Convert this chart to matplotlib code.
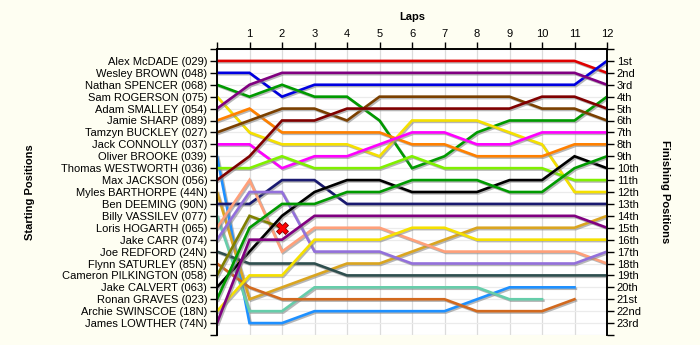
import matplotlib
matplotlib.use("Agg")
import matplotlib.pyplot as plt
import matplotlib.patheffects as pe

plt.rcParams['font.family'] = ['Liberation Sans', 'DejaVu Sans']

# Starting grid (top to bottom)
drivers = ['Alex McDADE (029)', 'Wesley BROWN (048)', 'Nathan SPENCER (068)', 'Sam ROGERSON (075)',
           'Adam SMALLEY (054)', 'Jamie SHARP (089)', 'Tamzyn BUCKLEY (027)', 'Jack CONNOLLY (037)',
           'Oliver BROOKE (039)', 'Thomas WESTWORTH (036)', 'Max JACKSON (056)', 'Myles BARTHORPE (44N)',
           'Ben DEEMING (90N)', 'Billy VASSILEV (077)', 'Loris HOGARTH (065)', 'Jake CARR (074)',
           'Joe REDFORD (24N)', 'Flynn SATURLEY (85N)', 'Cameron PILKINGTON (058)', 'Jake CALVERT (063)',
           'Ronan GRAVES (023)', 'Archie SWINSCOE (18N)', 'James LOWTHER (74N)']

colors = ['#e00000', '#0000e0', '#009a00', '#f5e000', '#800080', '#ff8000', '#7b4000', '#ff00ff',
          '#1e90ff', '#80f000', '#800000', '#daa520', '#1a1a70', '#66cdaa', '#ffa07a', '#9370db',
          '#2f4f4f', '#d2691e', '#808000', '#000000', '#009a00', '#f5e000', '#800080']

# position at each lap (lap 0 = grid)
mcdade    = [1, 1, 1, 1, 1, 1, 1, 1, 1, 1, 1, 1, 2]
wbrown    = [2, 2, 4, 3, 3, 3, 3, 3, 3, 3, 3, 3, 1]
spencer   = [3, 4, 3, 4, 4, 6, 10, 9, 7, 6, 6, 6, 4]
rogerson  = [4, 7, 8, 8, 8, 9, 6, 6, 6, 7, 8, 12, 12]
smalley   = [5, 3, 2, 2, 2, 2, 2, 2, 2, 2, 2, 2, 3]
sharp     = [6, 5, 7, 7, 7, 7, 8, 8, 9, 9, 9, 8, 8]
buckley   = [7, 6, 5, 5, 6, 4, 4, 4, 4, 4, 5, 5, 6]
connolly  = [8, 8, 10, 9, 9, 8, 7, 7, 8, 8, 7, 7, 7]
brooke    = [9, 23, 23, 22, 22, 22, 22, 22, 21, 20, 20, 20]
westworth = [10, 10, 9, 10, 10, 10, 9, 10, 10, 10, 10, 11, 11]
jackson   = [11, 9, 6, 6, 5, 5, 5, 5, 5, 5, 4, 4, 5]
barthorpe = [12, 21, 20, 19, 18, 18, 17, 16, 15, 15, 15, 15, 14]
deeming   = [13, 13, 11, 11, 13, 13, 13, 13, 13, 13, 13, 13, 13]
vassilev  = [14, 22, 22, 20, 20, 20, 20, 20, 20, 21, 21]
hogarth   = [15, 11, 17, 15, 15, 15, 16, 17, 17, 17, 17, 17, 18]
carr      = [16, 12, 12, 17, 17, 17, 18, 18, 18, 18, 18, 18, 17]
redford   = [17, 18, 18, 18, 19, 19, 19, 19, 19, 19, 19, 19, 19]
saturley  = [18, 20, 21, 21, 21, 21, 21, 21, 22, 22, 22, 21]
pilkington = [19, 14, 15]
calvert   = [20, 17, 14, 12, 11, 11, 12, 12, 12, 11, 11, 9, 10]
graves    = [21, 15, 13, 13, 12, 12, 11, 11, 11, 12, 12, 10, 9]
swinscoe  = [22, 19, 19, 16, 16, 16, 15, 15, 16, 16, 16, 16, 16]
lowther   = [23, 16, 16, 14, 14, 14, 14, 14, 14, 14, 14, 14, 15]

positions = [mcdade, wbrown, spencer, rogerson, smalley, sharp, buckley, connolly, brooke,
             westworth, jackson, barthorpe, deeming, vassilev, hogarth, carr, redford, saturley,
             pilkington, calvert, graves, swinscoe, lowther]
crashed = ['Cameron PILKINGTON (058)']

finish_labels = ['1st', '2nd', '3rd'] + [f'{i}th' for i in range(4, 21)] + ['21st', '22nd', '23rd']
n_laps = 12

bg = '#fefef2'
fig = plt.figure(figsize=(7, 3.45), dpi=100, facecolor=bg)
ax = fig.add_axes([217 / 700, 1 - 335 / 345, 390 / 700, 286 / 345])
ax.set_facecolor('white')

shadow = [pe.SimpleLineShadow(offset=(1, -1), shadow_color='#888888', alpha=0.6), pe.Normal()]
for name, col, pos in zip(drivers, colors, positions):
    laps = list(range(len(pos)))
    ax.plot(laps, pos, color=col, lw=1.9, solid_joinstyle='miter', path_effects=shadow, zorder=3)
    if name in crashed:
        ax.plot(laps[-1], pos[-1], marker='X', ms=8, color='#ff0000', mec='#800000', mew=0.6, zorder=5)

ax.set_xlim(0, n_laps)
ax.set_ylim(24, 0)

ax.xaxis.tick_top()
ax.set_xticks(range(n_laps + 1))
ax.set_xticklabels([''] + [str(i) for i in range(1, n_laps + 1)])
ax.set_yticks(range(25))
ax.set_yticklabels([''] + drivers + [''])
ax.tick_params(axis='both', length=5, width=1, labelsize=8, colors='black', pad=2)

ax2 = ax.twinx()
ax2.set_ylim(24, 0)
ax2.set_yticks(range(25))
ax2.set_yticklabels([''] + finish_labels + [''])
ax2.tick_params(axis='y', length=5, width=1, labelsize=8, pad=2)

for a in (ax, ax2):
    a.spines['bottom'].set_visible(False)
    for s in ('top', 'left', 'right'):
        a.spines[s].set_linewidth(1.2)

ax.grid(True, axis='x', color='#dcdcdc', lw=0.9, zorder=0)
ax.grid(True, axis='y', color='#ebebeb', lw=0.9, zorder=0)
ax.set_axisbelow(True)

fig.text(412 / 700, 1 - 17 / 345, 'Laps', ha='center', va='center', fontsize=8, fontweight='bold')
fig.text(30 / 700, 1 - 192 / 345, 'Starting Positions', ha='center', va='center', rotation=90,
         fontsize=8, fontweight='bold')
fig.text(665 / 700, 1 - 192 / 345, 'Finishing Positions', ha='center', va='center', rotation=270,
         fontsize=8, fontweight='bold')

fig.savefig('out.png', dpi=100, facecolor=bg)
